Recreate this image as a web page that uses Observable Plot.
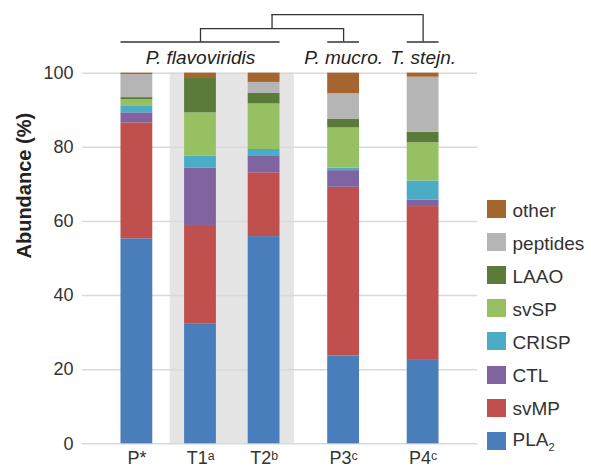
<!DOCTYPE html>
<html>
<head>
<meta charset="utf-8">
<script src="https://cdn.jsdelivr.net/npm/d3@7"></script>
<script src="https://cdn.jsdelivr.net/npm/@observablehq/plot@0.6"></script>
<style>
  body { margin: 0; background: #fff; }
  #wrap { position: relative; width: 591px; height: 468px; font-family: "Liberation Sans", Arial, sans-serif; color: #333; }
  #wrap svg { position: absolute; left: 0; top: 0; }
  #legend { position: absolute; left: 487px; top: 200px; }
  .item { display: flex; align-items: center; height: 33.1px; font-size: 19px; line-height: 1; }
  .item .sw { width: 18.5px; height: 18px; margin-right: 7px; flex: none; position: relative; top: -7.5px; }
  .item span { position: relative; top: -6.5px; }
  .item sub { font-size: 11px; vertical-align: -5px; }
</style>
</head>
<body>
<div id="wrap"></div>
<script>
// ---- data ----
const samples = ["P*", "T1ᵃ", "T2ᵇ", "P3ᶜ", "P4ᶜ"];
const species = ["P. flavoviridis", "P. flavoviridis", "P. flavoviridis", "P. mucro.", "T. stejn."];
const types = ["PLA2", "svMP", "CTL", "CRISP", "svSP", "LAAO", "peptides", "other"];
const typeLabels = ["PLA<sub>2</sub>", "svMP", "CTL", "CRISP", "svSP", "LAAO", "peptides", "other"];
const PLA2     = [55.3, 32.4, 55.9, 23.7, 22.5];
const svMP     = [31.3, 26.5, 17.2, 45.5, 41.5];
const CTL      = [2.7, 15.5, 4.6, 4.5, 1.7];
const CRISP    = [1.7, 3.2, 1.7, 0.7, 5.2];
const svSP     = [1.8, 11.7, 12.3, 10.8, 10.3];
const LAAO     = [0.6, 9.5, 2.9, 2.3, 2.9];
const peptides = [6.2, 0, 2.9, 7.0, 14.8];
const other    = [0.4, 1.2, 2.5, 5.5, 1.1];
const shadedSamples = ["T1ᵃ", "T2ᵇ"];
const yTicks = [0, 20, 40, 60, 80, 100];
// dendrogram (heights read in y-axis units above the 100% line)
const cladeLevel = 108.4;
const speciesLabelLevel = 104.1;
const joins = [
  {name: "A", left: "P. flavoviridis", right: "P. mucro.", height: 112.0},
  {name: "root", left: "A", right: "T. stejn.", height: 115.8}
];
const colors = ["#4a7ebb", "#c0504d", "#8064a2", "#4bacc6", "#97c063", "#5b7b3a", "#b5b5b5", "#a4652f"];

// ---- derived ----
const series = {PLA2, svMP, CTL, CRISP, svSP, LAAO, peptides, other};
const pos = [];
samples.forEach((s, i) => {
  pos.push(i === 0 ? 0 : pos[i - 1] + (species[i] === species[i - 1] ? 4 : 5));
});
const rows = [];
samples.forEach((s, i) => types.forEach(t => rows.push({sample: s, pos: pos[i], type: t, value: series[t][i]})));

const groups = [...new Set(species)].map(name => {
  const ps = pos.filter((p, i) => species[i] === name);
  return {name, min: d3.min(ps), max: d3.max(ps), center: (d3.min(ps) + d3.max(ps)) / 2, level: cladeLevel};
});
const nodes = new Map(groups.map(g => [g.name, {x: g.center, level: g.level}]));
const hLines = groups.map(g => ({y: g.level, x1: g.min - 1, x2: g.max + 1}));
const vLines = [];
joins.forEach(j => {
  const L = nodes.get(j.left), R = nodes.get(j.right);
  vLines.push({x: L.x, y1: L.level, y2: j.height});
  vLines.push({x: R.x, y1: R.level, y2: j.height});
  hLines.push({y: j.height, x1: L.x, x2: R.x});
  nodes.set(j.name, {x: (L.x + R.x) / 2, level: j.height});
});
const shadePos = pos.filter((p, i) => shadedSamples.includes(samples[i]));
const shade = [{x1: d3.min(shadePos) - 1.9, x2: d3.max(shadePos) + 1.9}];
const labelOf = new Map(pos.map((p, i) => [p, samples[i]]));

const chart = Plot.plot({
  width: 591,
  height: 468,
  marginLeft: 82,
  marginRight: 114,
  marginTop: 0,
  marginBottom: 24.7,
  style: {fontFamily: "'Liberation Sans', Arial, sans-serif", fontSize: "18px", color: "#333", background: "transparent", overflow: "visible"},
  x: {type: "linear", domain: [-3.42, 21.42]},
  y: {domain: [0, 119.6]},
  color: {domain: types, range: colors},
  marks: [
    Plot.rect(shade, {x1: "x1", x2: "x2", y1: 0, y2: 100, fill: "#e5e5e5"}),
    Plot.ruleY(yTicks, {stroke: "#d9d9d9", strokeWidth: 1.5}),
    Plot.rect(rows, Plot.stackY({x: "pos", y: "value", x1: d => d.pos - 1, x2: d => d.pos + 1, fill: "type"})),
    Plot.ruleY(hLines, {y: "y", x1: "x1", x2: "x2", stroke: "#333", strokeWidth: 1.3}),
    Plot.ruleX(vLines, {x: "x", y1: "y1", y2: "y2", stroke: "#333", strokeWidth: 1.3}),
    Plot.text(groups, {x: "center", y: speciesLabelLevel, text: "name", fontStyle: "italic", fontSize: 19, fill: "#222"}),
    Plot.axisY({ticks: yTicks, tickSize: 0, tickPadding: 9, label: null, fontSize: 18, fill: "#333"}),
    Plot.axisX({ticks: pos, tickFormat: d => labelOf.get(d), tickSize: 0, tickPadding: 7, label: null, fontSize: 18, fill: "#333"}),
    Plot.text(["Abundance (%)"], {y: [50], frameAnchor: "left", dx: -58, rotate: -90, fontWeight: "bold", fontSize: 20, fill: "#222"})
  ]
});

const wrap = document.getElementById("wrap");
wrap.appendChild(chart);

// legend from the colour scale (top to bottom: reverse stack order)
const cs = chart.scale("color");
const legend = document.createElement("div");
legend.id = "legend";
cs.domain.slice().reverse().forEach(t => {
  const i = cs.domain.indexOf(t);
  const item = document.createElement("div");
  item.className = "item";
  item.innerHTML = `<div class="sw" style="background:${cs.range[i]}"></div><span>${typeLabels[types.indexOf(t)]}</span>`;
  legend.appendChild(item);
});
wrap.appendChild(legend);
</script>
</body>
</html>
